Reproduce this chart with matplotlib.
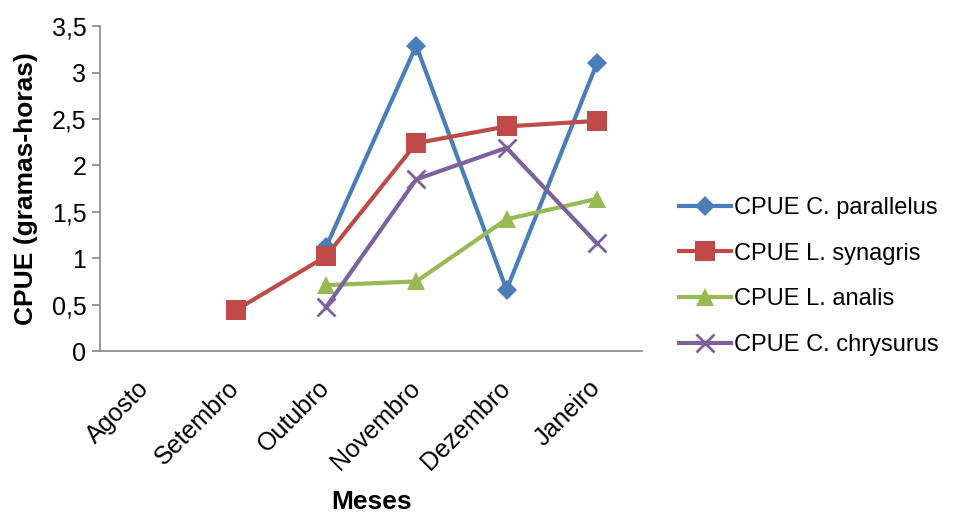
import matplotlib
matplotlib.use('Agg')
import matplotlib.pyplot as plt
import numpy as np

# Dados
meses = ['Agosto', 'Setembro', 'Outubro', 'Novembro', 'Dezembro', 'Janeiro']
c_parallelus = [np.nan, np.nan, 1.12, 3.29, 0.66, 3.10]
l_synagris = [np.nan, 0.44, 1.02, 2.24, 2.42, 2.48]
l_analis = [np.nan, np.nan, 0.71, 0.75, 1.42, 1.64]
c_chrysurus = [np.nan, np.nan, 0.47, 1.85, 2.19, 1.16]
rotulos = ['CPUE C. parallelus', 'CPUE L. synagris', 'CPUE L. analis', 'CPUE C. chrysurus']
yticks = [0, 0.5, 1, 1.5, 2, 2.5, 3, 3.5]
ytick_labels = ['0', '0,5', '1', '1,5', '2', '2,5', '3', '3,5']

plt.rcParams['font.family'] = ['Liberation Sans', 'DejaVu Sans']

fig = plt.figure(figsize=(9.54, 5.14), dpi=100)
ax = fig.add_axes([0.105, 0.317, 0.568, 0.632])

x = np.arange(len(meses))
series = [c_parallelus, l_synagris, l_analis, c_chrysurus]
cores = ['#4A7EBB', '#BE4B48', '#98B954', '#7D60A0']
marcadores = ['D', 's', '^', 'x']
tamanhos = [10, 14, 13, 13]
for y, cor, m, ms, lab in zip(series, cores, marcadores, tamanhos, rotulos):
    mew = 2 if m == 'x' else 0
    ax.plot(x, y, color=cor, lw=3, marker=m, markersize=ms, markeredgewidth=mew,
            markeredgecolor=cor, label=lab, clip_on=False)

ax.set_xlim(-0.5, len(meses) - 0.5)
ax.set_ylim(0, 3.5)
ax.set_yticks(yticks)
ax.set_yticklabels(ytick_labels, fontsize=18)
ax.set_xticks(x)
ax.set_xticklabels(meses, fontsize=18, rotation=45, ha='right', va='center',
                   rotation_mode='anchor')
ax.tick_params(axis='x', length=0, pad=24)
ax.tick_params(axis='y', length=6, color='#868686', width=1.2, pad=4)

for s in ['top', 'right']:
    ax.spines[s].set_visible(False)
for s in ['left', 'bottom']:
    ax.spines[s].set_color('#868686')
    ax.spines[s].set_linewidth(1.2)

ax.set_xlabel('Meses', fontsize=19, fontweight='bold', labelpad=11)
ax.set_ylabel('CPUE (gramas-horas)', fontsize=19, fontweight='bold', labelpad=10)

fig.legend(loc='center left', bbox_to_anchor=(0.689, 0.462), frameon=False,
           fontsize=17, handlelength=2.2, handletextpad=0.15, labelspacing=1.0)

fig.savefig('out.png', dpi=100)
